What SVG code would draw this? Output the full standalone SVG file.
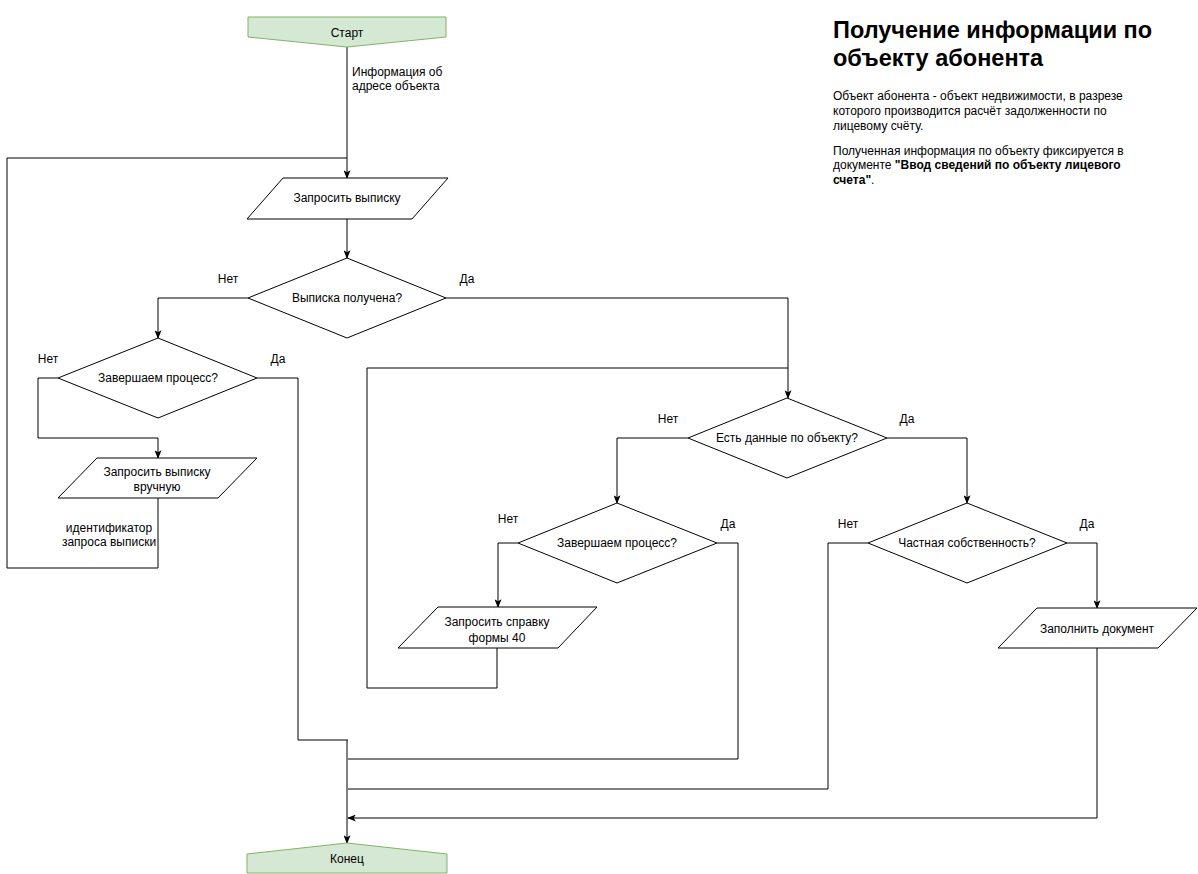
<svg xmlns="http://www.w3.org/2000/svg" width="1198" height="874" viewBox="0 0 1198 874">
<style>
text{font-family:"Liberation Sans",Arial,sans-serif;font-size:12px;fill:#000}
.n{text-anchor:middle}
.shape{fill:#fff;stroke:#000;stroke-width:1}
.term{fill:#d5e8d4;stroke:#82b366;stroke-width:1}
.edge{fill:none;stroke:#000;stroke-width:1}
.title{font-size:23.5px;font-weight:bold}
.b{font-weight:bold}
</style>
<defs>
<marker id="arr" viewBox="0 0 10 8" refX="9" refY="4" markerWidth="9" markerHeight="7" markerUnits="userSpaceOnUse" orient="auto">
<path d="M0,0 L10,4 L0,8 L2.5,4 Z" fill="#000"/>
</marker>
</defs>
<rect width="1198" height="874" fill="#fff"/>

<g id="connectors">
<path class="edge" d="M347,47 V178" marker-end="url(#arr)"/>
<path class="edge" d="M158,498 V568 H7 V158 H347"/>
<path class="edge" d="M347,219 V258" marker-end="url(#arr)"/>
<path class="edge" d="M248,298 H158 V338" marker-end="url(#arr)"/>
<path class="edge" d="M446,298 H788 V398" marker-end="url(#arr)"/>
<path class="edge" d="M497,648 V688 H367 V368 H788"/>
<path class="edge" d="M58,378 H38 V438 H158 V458" marker-end="url(#arr)"/>
<path class="edge" d="M257,378 H298 V740 H348"/>
<path class="edge" d="M688,438 H617 V503" marker-end="url(#arr)"/>
<path class="edge" d="M887,438 H967 V503" marker-end="url(#arr)"/>
<path class="edge" d="M518,543 H498 V607" marker-end="url(#arr)"/>
<path class="edge" d="M717,543 H738 V759 H348"/>
<path class="edge" d="M868,543 H828 V789 H348"/>
<path class="edge" d="M1067,543 H1097 V608" marker-end="url(#arr)"/>
<path class="edge" d="M1097,648 V818 H348" marker-end="url(#arr)"/>
<path class="edge" d="M347,740 V843" marker-end="url(#arr)"/>
<text x="352" y="76">Информация об</text>
<text x="352" y="90">адресе объекта</text>
<text class="n" x="109" y="532">идентификатор</text>
<text class="n" x="109" y="546">запроса выписки</text>
<text class="n" x="228" y="283">Нет</text>
<text class="n" x="467" y="283">Да</text>
<text class="n" x="48" y="363">Нет</text>
<text class="n" x="278" y="363">Да</text>
<text class="n" x="668" y="423">Нет</text>
<text class="n" x="907" y="423">Да</text>
<text class="n" x="508" y="523">Нет</text>
<text class="n" x="728" y="528">Да</text>
<text class="n" x="848" y="528">Нет</text>
<text class="n" x="1087" y="528">Да</text>
</g>

<g id="start">
<polygon class="term" points="248,17 446,17 446,37 347,47 248,37"/>
<text class="n" x="347" y="37">Старт</text>
</g>
<g id="request">
<polygon class="shape" points="283,178 448,178 412,219 247,219"/>
<text class="n" x="347" y="202">Запросить выписку</text>
</g>
<g id="received">
<polygon class="shape" points="347,258 446,298 347,338 248,298"/>
<text class="n" x="347" y="302">Выписка получена?</text>
</g>
<g id="finish1">
<polygon class="shape" points="158,338 257,378 158,418 58,378"/>
<text class="n" x="158" y="382">Завершаем процесс?</text>
</g>
<g id="manual">
<polygon class="shape" points="97,458 257,458 218,498 58,498"/>
<text class="n" x="157" y="476">Запросить выписку</text>
<text class="n" x="157" y="491">вручную</text>
</g>
<g id="hasdata">
<polygon class="shape" points="787,398 887,438 787,478 688,438"/>
<text class="n" x="787" y="442">Есть данные по объекту?</text>
</g>
<g id="finish2">
<polygon class="shape" points="617,503 717,543 617,583 518,543"/>
<text class="n" x="617" y="547">Завершаем процесс?</text>
</g>
<g id="form40">
<polygon class="shape" points="438,607 597,607 558,648 398,648"/>
<text class="n" x="497" y="626">Запросить справку</text>
<text class="n" x="497" y="642">формы 40</text>
</g>
<g id="private">
<polygon class="shape" points="967,503 1067,543 967,583 868,543"/>
<text class="n" x="967" y="547">Частная собственность?</text>
</g>
<g id="fill">
<polygon class="shape" points="1037,608 1197,608 1158,648 998,648"/>
<text class="n" x="1097" y="633">Заполнить документ</text>
</g>
<g id="end">
<polygon class="term" points="247,854 347,843 447,854 447,873 247,873"/>
<text class="n" x="347" y="863">Конец</text>
</g>

<g id="description">
<text class="title" x="833" y="38">Получение информации по</text>
<text class="title" x="833" y="66">объекту абонента</text>
<text x="833" y="100">Объект абонента - объект недвижимости, в разрезе</text>
<text x="833" y="115">которого производится расчёт задолженности по</text>
<text x="833" y="130">лицевому счёту.</text>
<text x="833" y="155">Полученная информация по объекту фиксируется в</text>
<text x="833" y="169">документе <tspan class="b">"Ввод сведений по объекту лицевого</tspan></text>
<text x="833" y="184"><tspan class="b">счета"</tspan>.</text>
</g>
</svg>
